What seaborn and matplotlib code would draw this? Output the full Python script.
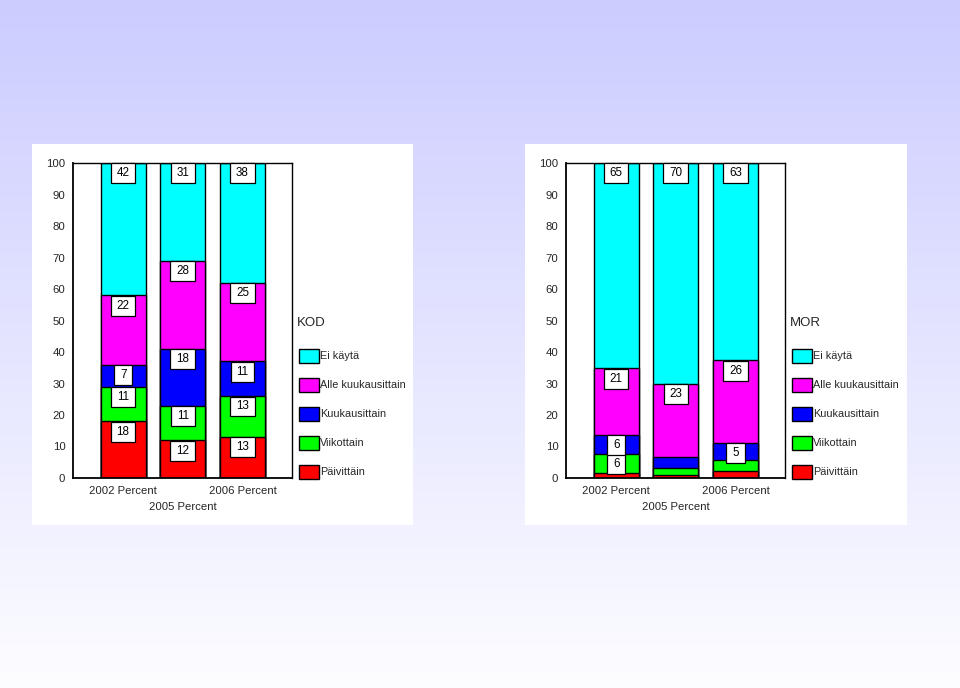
import numpy as np
import pandas as pd
import matplotlib
matplotlib.use("Agg")
import matplotlib.pyplot as plt
import seaborn as sns
from matplotlib.patches import Rectangle
from matplotlib.path import Path

# ---------------- data ----------------
years = ["2002 Percent", "2005 Percent", "2006 Percent"]
categories = ["Päivittäin", "Viikottain", "Kuukausittain", "Alle kuukausittain", "Ei käytä"]
cat_colors = ["#FF0000", "#00FF00", "#0000FF", "#FF00FF", "#00FFFF"]

kod_paivittain = [18, 12, 13]
kod_viikottain = [11, 11, 13]
kod_kuukausittain = [7, 18, 11]
kod_alle_kuukausittain = [22, 28, 25]
kod_ei_kayta = [42, 31, 38]

mor_paivittain = [1.7, 0.9, 2.1]
mor_viikottain = [5.9, 2.3, 3.7]
mor_kuukausittain = [6.1, 3.5, 5.4]
mor_alle_kuukausittain = [21.1, 23.2, 26.2]
mor_ei_kayta = [65.2, 70.1, 62.6]

yticks = [0, 10, 20, 30, 40, 50, 60, 70, 80, 90, 100]

# ---------------- style ----------------
sns.set_style("white")
plt.rcParams["font.family"] = ["Liberation Sans", "DejaVu Sans"]

W, H = 960, 688
fig = plt.figure(figsize=(W / 100, H / 100), dpi=100)

# gradient background
bg = fig.add_axes([0, 0, 1, 1], zorder=-10)
grad = np.linspace(0, 1, 256)[:, None]
top = np.array([204, 204, 255]) / 255.0
bot = np.array([253, 253, 255]) / 255.0
img = top[None, None, :] * (1 - grad[:, :, None]) + bot[None, None, :] * grad[:, :, None]
bg.imshow(img, aspect="auto", extent=[0, 1, 0, 1], origin="upper")
bg.set_axis_off()


def fx(px):
    return px / W


def fy(py):
    return 1 - py / H


def label_box(x0, y0, width, height, mutation_size):
    padx = 0.5 * mutation_size
    pady = 0.34 * mutation_size
    xa, xb = x0 - padx, x0 + width + padx
    ya, yb = y0 - pady, y0 + height + pady
    return Path([(xa, ya), (xb, ya), (xb, yb), (xa, yb), (xa, ya)], closed=True)


# white panels
for (x0, x1) in [(32, 413), (525, 907)]:
    fig.add_artist(Rectangle((fx(x0), fy(525)), fx(x1 - x0), (525 - 144) / H,
                             transform=fig.transFigure, facecolor="white",
                             edgecolor="none", zorder=-5))


def draw_panel(ax_left_px, series, title):
    ax_right_px = ax_left_px + 219
    ax = fig.add_axes([fx(ax_left_px), fy(478), fx(219), 315 / H])
    ax.set_facecolor("white")
    cum = np.cumsum(np.array(series, dtype=float), axis=0)
    # draw stacked bars from top layer down (seaborn overlay)
    for i in range(len(categories) - 1, -1, -1):
        df = pd.DataFrame({"year": years, "value": cum[i]})
        sns.barplot(data=df, x="year", y="value", color=cat_colors[i],
                    saturation=1, width=0.75, edgecolor="black", linewidth=1,
                    ax=ax, errorbar=None)
    # value labels
    for i in range(len(categories)):
        for j in range(len(years)):
            v = series[i][j]
            if v >= 4.5:
                ax.text(j, cum[i][j] - 3.3, f"{int(round(v))}", ha="center", va="center",
                        fontsize=8.4, color="black", zorder=5,
                        bbox=dict(boxstyle=label_box, fc="white", ec="black", lw=0.9))
    ax.set_xlim(-0.84, 2.83)
    ax.set_ylim(0, 100)
    ax.set_xlabel("")
    ax.set_ylabel("")
    ax.set_yticks(yticks)
    ax.set_yticklabels([str(t) for t in yticks], fontsize=8.2)
    ax.set_xticks([0, 1, 2])
    ax.set_xticklabels(years, fontsize=8.2)
    ax.tick_params(axis="both", direction="out", length=3.5, width=2, color="black", pad=2)
    ax.xaxis.get_major_ticks()[1].set_pad(14)
    for s in ax.spines.values():
        s.set_visible(True)
        s.set_color("black")
        s.set_linewidth(1)
    ax.spines["left"].set_linewidth(1.3)
    ax.spines["bottom"].set_linewidth(1.3)

    # legend (manual)
    lx = ax_right_px + 7
    fig.text(fx(lx - 2), fy(323), title, fontsize=9.5, ha="left", va="center")
    centers = [356, 385, 414, 443, 472]
    for k, idx in enumerate(range(len(categories) - 1, -1, -1)):
        cy = centers[k]
        fig.add_artist(Rectangle((fx(lx), fy(cy + 7)), fx(20), 14 / H,
                                 transform=fig.transFigure, facecolor=cat_colors[idx],
                                 edgecolor="black", linewidth=1))
        fig.text(fx(lx + 21), fy(cy), categories[idx], fontsize=7.8,
                 ha="left", va="center")
    return ax


draw_panel(73, [kod_paivittain, kod_viikottain, kod_kuukausittain,
                kod_alle_kuukausittain, kod_ei_kayta], "KOD")
draw_panel(566, [mor_paivittain, mor_viikottain, mor_kuukausittain,
                 mor_alle_kuukausittain, mor_ei_kayta], "MOR")

fig.savefig("out.png", dpi=100)
